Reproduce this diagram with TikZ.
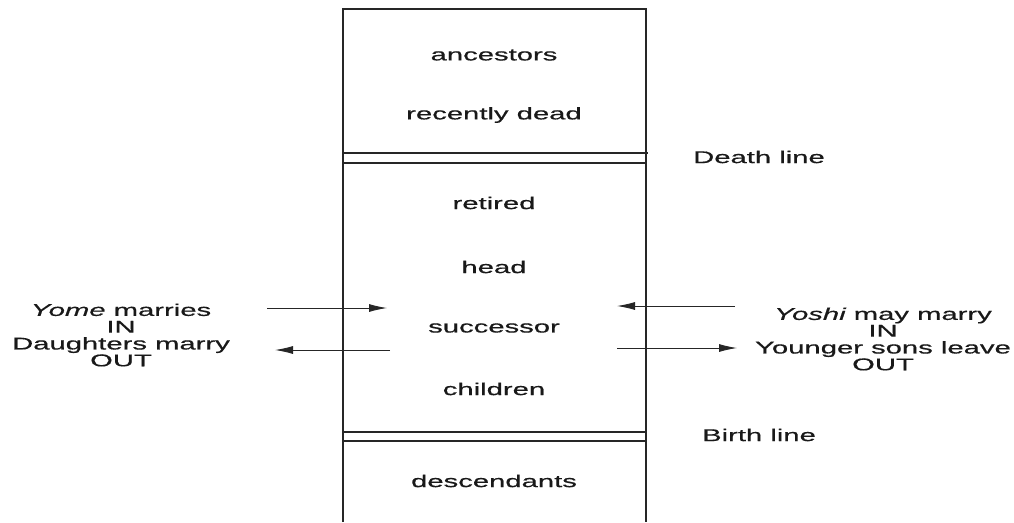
\documentclass[tikz,border=0pt]{standalone}
\usepackage{fontspec}
\setmainfont{Liberation Sans}
\newfontfamily\widesans[FakeStretch=1.72,FakeBold=0.6]{Liberation Sans}
\usetikzlibrary{arrows.meta}
\tikzset{
  lbl/.style={inner sep=0pt, font=\widesans\fontsize{17}{16.8}\selectfont, align=center, text=black!90},
  boxline/.style={line width=1.5pt, black!85},
  thinline/.style={line width=1.2pt, black!85},
  flow/.style={line width=0.9pt, black!85, -{Latex[length=18pt,width=8pt]}}
}
\begin{document}
\begin{tikzpicture}[x=1pt,y=-1pt]
\useasboundingbox (0,0) rectangle (1014,522);
% frame
\coordinate (tl) at (343,9);
\coordinate (tr) at (646,9);
\coordinate (bl) at (343,522);
\coordinate (br) at (646,522);
\draw[boxline] (bl) -- (tl) -- (tr) -- (br);
% death line
\coordinate (d1l) at (343,153); \coordinate (d1r) at (648,153);
\coordinate (d2l) at (343,163); \coordinate (d2r) at (646,163);
\draw[thinline] (d1l) -- (d1r);
\draw[thinline] (d2l) -- (d2r);
% birth line
\coordinate (b1l) at (343,432); \coordinate (b1r) at (646,432);
\coordinate (b2l) at (343,441); \coordinate (b2r) at (646,441);
\draw[thinline] (b1l) -- (b1r);
\draw[thinline] (b2l) -- (b2r);
% labels in box
\node[lbl] (anc) at (494,55) {ancestors};
\node[lbl] (rdead) at (494,115) {recently dead};
\node[lbl] (ret) at (494,203) {retired};
\node[lbl] (head) at (494,267) {head};
\node[lbl] (succ) at (494,328) {successor};
\node[lbl] (chil) at (494,389) {children};
\node[lbl] (desc) at (494,481) {descendants};
% side labels
\node[lbl] (death) at (759,157) {Death line};
\node[lbl] (birth) at (759,435) {Birth line};
\node[lbl] (left) at (121,335) {\itshape Yome\upshape{} marries\\IN\\Daughters marry\\OUT};
\node[lbl] (right) at (883,339) {\itshape Yoshi\upshape{} may marry\\IN\\Younger sons leave\\OUT};
% arrows
\coordinate (lin0) at (267,308); \coordinate (lin1) at (387,308);
\coordinate (lout0) at (390,350); \coordinate (lout1) at (275,350);
\coordinate (rin0) at (735,306); \coordinate (rin1) at (617,306);
\coordinate (rout0) at (617,348); \coordinate (rout1) at (737,348);
\draw[flow] (lin0) -- (lin1);
\draw[flow] (lout0) -- (lout1);
\draw[flow] (rin0) -- (rin1);
\draw[flow] (rout0) -- (rout1);
\end{tikzpicture}
\end{document}
